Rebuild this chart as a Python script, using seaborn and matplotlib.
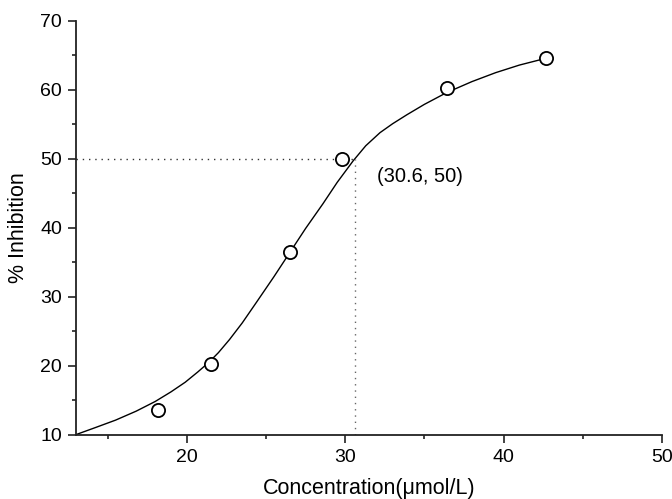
import matplotlib
matplotlib.use("Agg")
import matplotlib.pyplot as plt
import seaborn as sns
import pandas as pd
from matplotlib.ticker import MultipleLocator

# Measured points
conc = [18.2, 21.5, 26.5, 29.8, 36.4, 42.65]
inhib = [13.5, 20.2, 36.5, 50.0, 60.3, 64.6]

# Fitted curve
curve_x = [13.0, 14.2, 15.5, 16.8, 18.0, 19.0, 19.9, 20.7, 21.4, 22.0, 22.7, 23.5,
           24.4, 25.5, 26.5, 27.5, 28.6, 29.5, 30.5, 31.3, 32.2, 33.0, 33.9, 35.0,
           36.4, 38.0, 39.5, 41.0, 42.7]
curve_y = [10.0, 11.0, 12.1, 13.4, 14.8, 16.2, 17.6, 19.1, 20.5, 21.9, 23.8, 26.2,
           29.2, 32.9, 36.4, 39.9, 43.5, 46.6, 49.7, 51.9, 53.8, 55.1, 56.4, 57.9,
           59.6, 61.2, 62.5, 63.6, 64.6]

ic50_x = 30.6
ic50_y = 50
ic50_label = "(30.6, 50)"

pts = pd.DataFrame({"conc": conc, "inhib": inhib})
fit = pd.DataFrame({"x": curve_x, "y": curve_y})

sns.set_theme(style="ticks")
plt.rcParams['font.family'] = ['Liberation Sans', 'DejaVu Sans']
plt.rcParams['text.color'] = 'black'
plt.rcParams['axes.labelcolor'] = 'black'
plt.rcParams['xtick.color'] = 'black'
plt.rcParams['ytick.color'] = 'black'

fig = plt.figure(figsize=(6.72, 4.99), dpi=100)
ax = fig.add_axes([0.113, 0.129, 0.872, 0.829])

sns.lineplot(data=fit, x="x", y="y", ax=ax, color="black", linewidth=1.0,
             sort=False, estimator=None)
ax.plot([13, ic50_x], [ic50_y, ic50_y], color="#333333", lw=1.0, ls=(0, (1, 3.5)))
ax.plot([ic50_x, ic50_x], [10, ic50_y], color="#666666", lw=1.0, ls=(0, (1, 3.5)))
sns.scatterplot(data=pts, x="conc", y="inhib", ax=ax, s=90, facecolor="white",
                edgecolor="black", linewidth=1.3, zorder=5)

ax.text(32.0, 47.4, ic50_label, fontsize=14.5, ha="left", va="center", color="black")

ax.set_xlim(13, 50)
ax.set_ylim(10, 70)
ax.xaxis.set_major_locator(MultipleLocator(10))
ax.xaxis.set_minor_locator(MultipleLocator(5))
ax.yaxis.set_major_locator(MultipleLocator(10))
ax.yaxis.set_minor_locator(MultipleLocator(5))
ax.tick_params(which="major", direction="out", length=6, width=1.2, labelsize=14,
               color="#222222", labelcolor="black", pad=4)
ax.tick_params(which="minor", direction="out", length=3, width=1.2, color="#222222")
for s in ["left", "bottom"]:
    ax.spines[s].set_linewidth(1.3)
    ax.spines[s].set_color("#222222")
sns.despine(ax=ax)

ax.set_xlabel("Concentration(μmol/L)", fontsize=15.5, labelpad=9, color="black")
ax.set_ylabel("% Inhibition", fontsize=15.5, labelpad=8, color="black")

fig.savefig("out.png", dpi=100)
